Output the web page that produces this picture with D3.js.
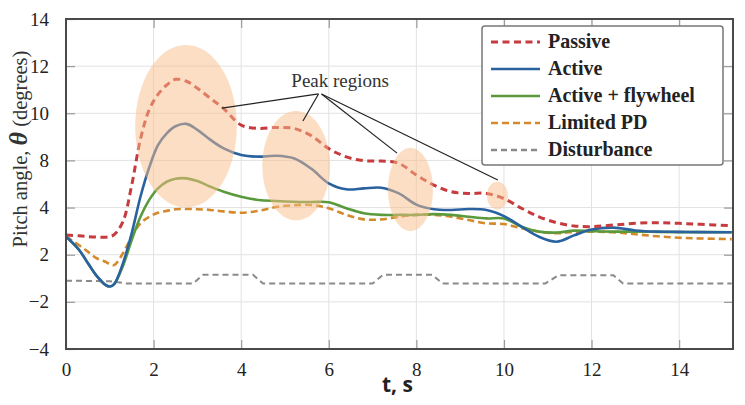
<!DOCTYPE html>
<html>
<head>
<meta charset="utf-8">
<script src="https://cdn.jsdelivr.net/npm/d3@7"></script>
<style>
  html, body { margin: 0; padding: 0; background: #fff; }
  svg { display: block; }
</style>
</head>
<body>
<svg id="chart" width="745" height="405"></svg>
<script>
// ---------------- DATA ----------------
const timeS = [0,0.3,0.5,0.7,0.9,1.0,1.1,1.3,1.5,1.7,1.9,2.1,2.3,2.5,2.75,3.0,3.3,3.6,4.0,4.4,4.8,5.2,5.6,6.0,6.4,6.8,7.2,7.6,8.0,8.4,8.8,9.2,9.6,10.0,10.4,10.8,11.2,11.6,12.0,12.5,13.0,13.5,14.0,14.5,15.2];

const passive = [2.84,2.8,2.77,2.75,2.74,2.77,2.85,3.4,5.9,8.9,10.15,10.8,11.2,11.44,11.36,11.06,10.63,10.2,9.5,9.36,9.4,9.36,9.05,8.5,8.15,7.98,7.95,7.75,6.76,5.91,5.34,5.2,5.2,4.76,3.97,3.61,3.36,3.22,3.19,3.26,3.33,3.36,3.33,3.29,3.23];

const active = [2.77,2.2,1.27,0.2,-0.56,-0.7,-0.5,1.27,2.91,4.92,7.4,8.65,9.15,9.45,9.55,9.3,8.87,8.51,8.23,8.16,8.2,8.09,7.3,6.05,5.55,5.63,5.68,5.2,4.25,3.93,3.9,3.94,3.9,3.64,3.19,2.76,2.55,2.82,3.07,3.15,3.03,2.98,2.97,2.96,2.95];

const flywheel = [2.77,2.2,1.3,0.2,-0.56,-0.7,-0.5,1.05,2.62,3.61,4.65,5.63,6.19,6.45,6.48,6.25,5.77,5.34,4.92,4.64,4.56,4.5,4.47,4.45,3.97,3.76,3.69,3.69,3.69,3.72,3.69,3.61,3.54,3.54,3.19,2.98,2.94,3.02,3.0,2.98,2.98,2.97,2.96,2.96,2.95];

const limitedPD = [2.77,2.4,2.13,1.7,1.4,1.2,1.12,2.06,2.76,3.33,3.61,3.78,3.86,3.93,3.94,3.93,3.9,3.84,3.78,3.86,4.05,4.2,4.22,3.97,3.69,3.5,3.5,3.61,3.69,3.69,3.61,3.47,3.33,3.3,3.12,2.98,2.91,2.97,2.98,2.95,2.87,2.78,2.72,2.69,2.66];

const disturbanceT = [0,1.0,1.4,2.9,3.13,4.27,4.5,7.0,7.24,8.36,8.6,10.94,11.24,12.5,12.72,15.2];
const disturbanceV = [-0.2,-0.25,-0.45,-0.45,0.3,0.3,-0.45,-0.45,0.3,0.3,-0.45,-0.45,0.25,0.25,-0.45,-0.45];

const seriesNames = ["Passive","Active","Active + flywheel","Limited PD","Disturbance"];
const yTickLabels = [14,12,10,8,4,2,-2,-4];
const xTickLabels = [0,2,4,6,8,10,12,14];
const xMax = 15.23;

// ---------------- DRAWING ----------------
(function draw() {
const mLeft = 66, mRight = 733, mTop = 19, mBottom = 349;
const svg = d3.select("#chart");

const x = d3.scaleLinear().domain([0, xMax]).range([mLeft, mRight]);
// the published axis is labelled unevenly (no 6 or 0): map each label to an evenly spaced position
const yDomainAsc = yTickLabels.slice().reverse();
const yRangeAsc = yDomainAsc.map((d, i) => mBottom - i * (mBottom - mTop) / (yDomainAsc.length - 1));
const y = d3.scaleLinear().domain(yDomainAsc).range(yRangeAsc);

const serif = "'Liberation Serif', 'Times New Roman', serif";
const fmt = d => d < 0 ? "\u2212" + Math.abs(d) : String(d);

// grid
const grid = svg.append("g");
grid.selectAll("line.gy").data(yTickLabels.slice(1, -1)).join("line")
  .attr("x1", mLeft).attr("x2", mRight).attr("y1", d => y(d)).attr("y2", d => y(d))
  .attr("stroke", "#e2e2e2").attr("stroke-width", 1);
grid.selectAll("line.gx").data(xTickLabels.slice(1)).join("line")
  .attr("x1", d => x(d)).attr("x2", d => x(d)).attr("y1", mTop).attr("y2", mBottom)
  .attr("stroke", "#e2e2e2").attr("stroke-width", 1);

// axes (ticks inward)
const gy = svg.append("g").attr("transform", `translate(${mLeft},0)`)
  .call(d3.axisLeft(y).tickValues(yTickLabels).tickSize(-9).tickPadding(17).tickFormat(fmt));
const gx = svg.append("g").attr("transform", `translate(0,${mBottom})`)
  .call(d3.axisBottom(x).tickValues(xTickLabels).tickSize(-9).tickPadding(14).tickFormat(fmt));
const gxTop = svg.append("g").attr("transform", `translate(0,${mTop})`)
  .call(d3.axisTop(x).tickValues(xTickLabels.slice(1)).tickSize(-9).tickFormat(""));
const gyRight = svg.append("g").attr("transform", `translate(${mRight},0)`)
  .call(d3.axisRight(y).tickValues(yTickLabels.slice(1,-1)).tickSize(-9).tickFormat(""));
[gy, gx, gxTop, gyRight].forEach(g => {
  g.select(".domain").remove();
  g.selectAll(".tick line").attr("stroke", "#999").attr("stroke-width", 1.2);
  g.selectAll(".tick text").attr("font-family", serif).attr("font-size", 19).attr("fill", "#222");
});

// data lines
const zip = (ts, vs) => ts.map((t, i) => [t, vs[i]]);
const plot = svg.append("g");
const smooth = d3.curveCatmullRom.alpha(0.5);
const styles = [
  {name: seriesNames[4], data: zip(disturbanceT, disturbanceV), color: "#8a8a8a", w: 2, dash: "6,4", curve: d3.curveLinear},
  {name: seriesNames[3], data: zip(timeS, limitedPD), color: "#d48a2c", w: 2.6, dash: "7,4", curve: smooth},
  {name: seriesNames[2], data: zip(timeS, flywheel), color: "#5b9a3c", w: 2.6, dash: null, curve: smooth},
  {name: seriesNames[1], data: zip(timeS, active), color: "#2a62a0", w: 2.6, dash: null, curve: smooth},
  {name: seriesNames[0], data: zip(timeS, passive), color: "#c73a3d", w: 3, dash: "7,4.5", curve: smooth}
];
styles.forEach(s => {
  const ln = d3.line().x(d => x(d[0])).y(d => y(d[1])).curve(s.curve);
  plot.append("path").datum(s.data)
    .attr("d", ln).attr("fill", "none")
    .attr("stroke", s.color).attr("stroke-width", s.w)
    .attr("stroke-dasharray", s.dash)
    .attr("stroke-linejoin", "round");
});

// peak-region highlights (t range, value range)
const regions = [
  {t0: 1.58, t1: 3.9, v0: 12.9, v1: 4.0},
  {t0: 4.48, t1: 6.03, v0: 10.1, v1: 3.46},
  {t0: 7.35, t1: 8.38, v0: 8.54, v1: 3.0},
  {t0: 9.61, t1: 10.09, v0: 6.2, v1: 3.92}
];
svg.append("g").selectAll("ellipse").data(regions).join("ellipse")
  .attr("cx", d => (x(d.t0) + x(d.t1)) / 2)
  .attr("cy", d => (y(d.v0) + y(d.v1)) / 2)
  .attr("rx", d => (x(d.t1) - x(d.t0)) / 2)
  .attr("ry", d => (y(d.v1) - y(d.v0)) / 2)
  .attr("fill", "#f9bd89").attr("fill-opacity", 0.5);

// annotation
const apex = [5.8, 10.82];
const targets = [[3.56, 10.22], [5.41, 9.67], [7.56, 8.31], [9.86, 6.34]];
const ann = svg.append("g");
ann.selectAll("line").data(targets).join("line")
  .attr("x1", (d, i) => x(apex[0]) + (i < 2 ? -1.5 : 1.5)).attr("y1", y(apex[1]))
  .attr("x2", d => x(d[0])).attr("y2", d => y(d[1]))
  .attr("stroke", "#222").attr("stroke-width", 1.2);
ann.append("text").attr("x", x(6.26)).attr("y", y(11.1))
  .attr("text-anchor", "middle").attr("font-family", serif).attr("font-size", 19)
  .attr("fill", "#333").text("Peak regions");

// frame
svg.append("rect").attr("x", mLeft).attr("y", mTop).attr("width", mRight - mLeft).attr("height", mBottom - mTop)
  .attr("fill", "none").attr("stroke", "#4a4a4a").attr("stroke-width", 2);

// legend
const lg = svg.append("g");
lg.append("rect").attr("x", 482).attr("y", 26).attr("width", 241).attr("height", 139).attr("rx", 3)
  .attr("fill", "#fff").attr("stroke", "#777").attr("stroke-width", 1.5);
styles.slice().reverse().forEach((s, i) => {
  const cy = 42 + i * 27;
  lg.append("line").attr("x1", 491).attr("x2", 540).attr("y1", cy).attr("y2", cy)
    .attr("stroke", s.color).attr("stroke-width", s.w === 3 ? 2.8 : 2.4)
    .attr("stroke-dasharray", s.dash);
  lg.append("text").attr("x", 548).attr("y", cy + 6)
    .attr("font-family", serif).attr("font-weight", "bold").attr("font-size", 20)
    .attr("fill", "#222").text(s.name);
});

// axis titles
svg.append("text").attr("x", (mLeft + mRight) / 2 - 2).attr("y", 392)
  .attr("text-anchor", "middle").attr("font-family", "'Open Sans', 'DejaVu Sans', sans-serif")
  .attr("font-weight", "bold").attr("font-size", 21).attr("fill", "#222").text("t, s");

const yt = svg.append("text").attr("transform", "translate(27,149) rotate(-90)")
  .attr("text-anchor", "middle").attr("font-family", serif).attr("font-size", 20.5).attr("fill", "#333");
yt.append("tspan").text("Pitch angle, ");
yt.append("tspan").attr("font-style", "italic").attr("font-weight", "bold").attr("font-size", 26).text("\u03B8");
yt.append("tspan").text(" (degrees)");
})();
</script>
</body>
</html>
